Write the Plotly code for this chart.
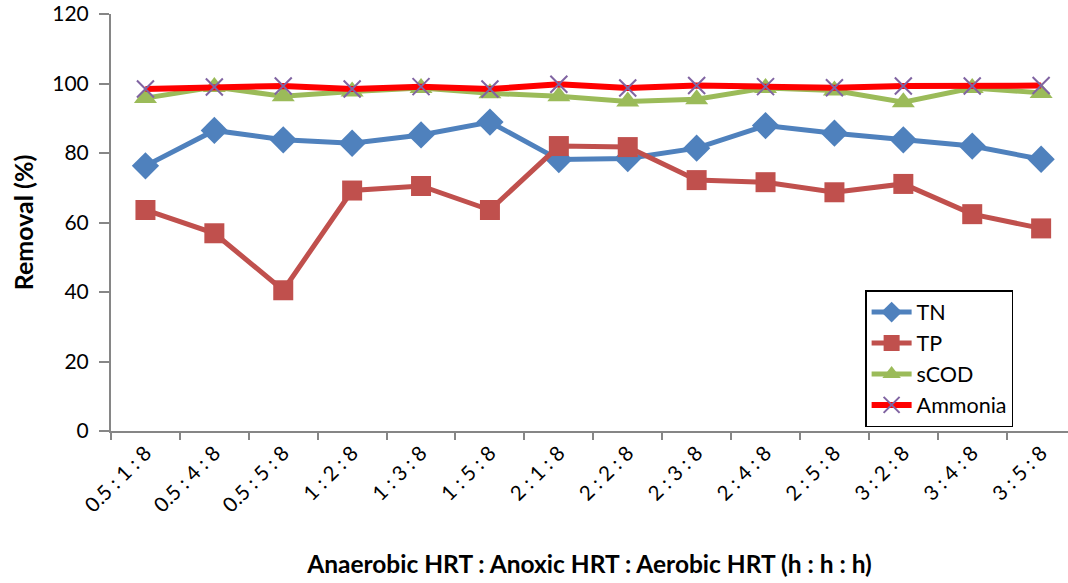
import plotly.graph_objects as go

categories = ["0.5 : 1 : 8", "0.5 : 4 : 8", "0.5 : 5 : 8", "1 : 2 : 8", "1 : 3 : 8", "1 : 5 : 8",
              "2 : 1 : 8", "2 : 2 : 8", "2 : 3 : 8", "2 : 4 : 8", "2 : 5 : 8", "3 : 2 : 8",
              "3 : 4 : 8", "3 : 5 : 8"]
tn = [76.3, 86.5, 83.8, 82.8, 85.2, 88.9, 78.1, 78.4, 81.4, 87.9, 85.7, 83.8, 82.0, 78.2]
tp = [63.6, 56.9, 40.5, 69.2, 70.5, 63.6, 82.0, 81.7, 72.2, 71.6, 68.7, 71.1, 62.4, 58.3]
scod = [95.8, 99.0, 96.3, 97.7, 98.7, 97.2, 96.3, 94.8, 95.5, 98.7, 98.0, 94.6, 98.7, 97.3]
ammonia = [98.4, 99.0, 99.3, 98.4, 99.1, 98.4, 99.8, 98.7, 99.4, 99.1, 98.8, 99.3, 99.3, 99.4]

FONT = "Lato"
fig = go.Figure()
fig.add_trace(go.Scatter(x=categories, y=tn, name="TN", mode="lines+markers",
                         line=dict(color="#4F81BD", width=5),
                         marker=dict(symbol="diamond", size=21, color="#4F81BD")))
fig.add_trace(go.Scatter(x=categories, y=tp, name="TP", mode="lines+markers",
                         line=dict(color="#C0504D", width=5),
                         marker=dict(symbol="square", size=20, color="#C0504D")))
fig.add_trace(go.Scatter(x=categories, y=scod, name="sCOD", mode="lines+markers",
                         line=dict(color="#9BBB59", width=5),
                         marker=dict(symbol="triangle-up", size=20, color="#9BBB59")))
fig.add_trace(go.Scatter(x=categories, y=ammonia, name="Ammonia", mode="lines+markers",
                         line=dict(color="#FF0000", width=6),
                         marker=dict(symbol="x-thin", size=17,
                                     line=dict(color="#8064A2", width=2), color="#8064A2")))

fig.update_layout(
    width=1068, height=583,
    margin=dict(l=111, r=0, t=14, b=152),
    paper_bgcolor="white", plot_bgcolor="white",
    font=dict(family=FONT, size=20, color="black"),
    showlegend=True,
    legend=dict(x=0.788, y=0.338, xanchor="left", yanchor="top",
                bordercolor="black", borderwidth=1.5, bgcolor="white",
                font=dict(size=21.5, family=FONT), tracegroupgap=0, itemwidth=40),
    xaxis=dict(type="category", range=[-0.5, 13.39], tickson="boundaries",
               ticks="outside", ticklen=7, tickcolor="#868686", tickwidth=2,
               showline=True, linecolor="#868686", linewidth=2, showgrid=False,
               tickangle=-45, tickfont=dict(size=20.5, family=FONT),
               title=dict(text="<b>Anaerobic HRT : Anoxic HRT : Aerobic HRT (h : h : h)</b>",
                          font=dict(size=24.5, family=FONT), standoff=40)),
    yaxis=dict(range=[0, 120], dtick=20, ticks="outside", ticklen=10,
               tickcolor="#868686", tickwidth=2, showline=True, linecolor="#868686",
               linewidth=2, showgrid=False, zeroline=False, ticklabelstandoff=6,
               tickfont=dict(size=21, family=FONT),
               title=dict(text="<b>Removal (%)</b>", font=dict(size=25, family=FONT), standoff=12)),
)
fig.write_html("out.html")
